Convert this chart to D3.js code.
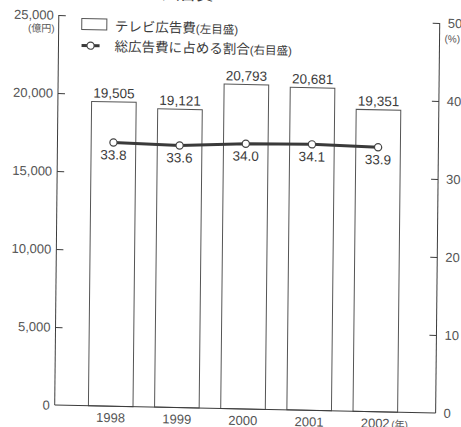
<!DOCTYPE html>
<html>
<head>
<meta charset="utf-8">
<script src="https://cdn.jsdelivr.net/npm/d3@7"></script>
<style>
  html, body { margin: 0; padding: 0; background: #ffffff; }
  svg { display: block; }
  text { font-family: "Liberation Sans", "Noto Sans CJK JP", sans-serif; }
</style>
</head>
<body>
<svg id="chart" width="461" height="427"></svg>
<script>
// TV advertising spend (100 million yen) and its share of total ad spend (%)
const years = ["1998", "1999", "2000", "2001", "2002"];
const tvSpend = [19505, 19121, 20793, 20681, 19351];
const shareOfTotal = [33.8, 33.6, 34.0, 34.1, 33.9];
const leftTicks = [0, 5000, 10000, 15000, 20000, 25000];
const rightTicks = [0, 10, 20, 30, 40, 50];

const W = 380, H = 390;
const ink = "#3c3c3c", soft = "#555";

const svg = d3.select("#chart");
// The printed page sits slightly askew on the scanner bed
const g = svg.append("g")
  .attr("transform", "matrix(1.0024,0.021,-0.0105,1.0,58.8,15)");

const x = d3.scaleBand().domain(years).range([0, W])
  .paddingInner(0.326).paddingOuter(0.542).align(0.47);
const yL = d3.scaleLinear().domain([0, 25000]).range([H, 0]);
const yR = d3.scaleLinear().domain([0, 50]).range([H, 0]);

// Title, cut off at the top edge
g.append("text")
  .attr("x", 154).attr("y", -18)
  .attr("text-anchor", "end")
  .attr("font-size", 17).attr("fill", ink)
  .text("テレビ広告費");

// Bars
g.selectAll("rect.bar").data(years).join("rect")
  .attr("class", "bar")
  .attr("x", d => x(d))
  .attr("y", (d, i) => yL(tvSpend[i]))
  .attr("width", x.bandwidth())
  .attr("height", (d, i) => H - yL(tvSpend[i]))
  .attr("fill", "#fff").attr("stroke", soft).attr("stroke-width", 1);

// Bar value labels
g.selectAll("text.bv").data(years).join("text")
  .attr("class", "bv")
  .attr("x", d => x(d) + x.bandwidth() / 2)
  .attr("y", (d, i) => yL(tvSpend[i]) - 4)
  .attr("text-anchor", "middle")
  .attr("font-size", 13.5).attr("fill", ink)
  .text((d, i) => d3.format(",")(tvSpend[i]));

// Left axis
const axL = g.append("g").call(
  d3.axisLeft(yL).tickValues(leftTicks).tickSize(-7).tickPadding(5)
    .tickFormat(d3.format(",")));
axL.select(".domain").attr("stroke", ink).attr("d", `M0,${H}V0`);
axL.selectAll(".tick line").attr("stroke", ink);
axL.selectAll(".tick text").attr("font-size", 13).attr("fill", soft)
  .attr("font-family", "Liberation Sans, sans-serif");
axL.selectAll(".tick").filter(d => d === 0).select("line").remove();

g.append("text").attr("x", -4).attr("y", 17)
  .attr("text-anchor", "end").attr("font-size", 10).attr("fill", soft)
  .text("(億円)");

// Right axis
const axR = g.append("g").attr("transform", `translate(${W},0)`).call(
  d3.axisRight(yR).tickValues(rightTicks).tickSize(-7).tickPadding(8));
axR.select(".domain").attr("stroke", ink).attr("d", `M0,${H}V0`);
axR.selectAll(".tick line").attr("stroke", ink);
axR.selectAll(".tick text").attr("font-size", 13).attr("fill", soft)
  .attr("font-family", "Liberation Sans, sans-serif");
axR.selectAll(".tick").filter(d => d === 0).select("line").remove();

g.append("text").attr("x", W + 5).attr("y", 19)
  .attr("font-size", 10).attr("fill", soft)
  .text("(%)");

// Baseline
g.append("line").attr("x1", 0).attr("x2", W).attr("y1", H).attr("y2", H)
  .attr("stroke", ink).attr("stroke-width", 1.2);

// Year labels
g.selectAll("text.yr").data(years).join("text")
  .attr("class", "yr")
  .attr("x", d => x(d) + x.bandwidth() / 2)
  .attr("y", H + 16)
  .attr("text-anchor", "middle")
  .attr("font-size", 13).attr("fill", soft)
  .text(d => d);
g.append("text")
  .attr("x", x("2002") + x.bandwidth() / 2 + 16).attr("y", H + 16)
  .attr("font-size", 10).attr("fill", soft)
  .text("(年)");

// Share line
const cx = d => x(d) + x.bandwidth() / 2;
g.append("path")
  .datum(years)
  .attr("d", d3.line().x(cx).y((d, i) => yR(shareOfTotal[i])))
  .attr("fill", "none").attr("stroke", "#3a3a3a").attr("stroke-width", 3);
g.selectAll("circle.pt").data(years).join("circle")
  .attr("class", "pt")
  .attr("cx", cx).attr("cy", (d, i) => yR(shareOfTotal[i]))
  .attr("r", 3.6)
  .attr("fill", "#fff").attr("stroke", "#444").attr("stroke-width", 1.2);
g.selectAll("text.sv").data(years).join("text")
  .attr("class", "sv")
  .attr("x", cx)
  .attr("y", (d, i) => yR(shareOfTotal[i]) + 17)
  .attr("text-anchor", "middle")
  .attr("font-size", 13.5).attr("fill", ink)
  .text((d, i) => d3.format(".1f")(shareOfTotal[i]));

// Legend
const lg = g.append("g");
lg.append("rect").attr("x", 23).attr("y", 3).attr("width", 25).attr("height", 11)
  .attr("fill", "#fff").attr("stroke", soft).attr("stroke-width", 1);
const t1 = lg.append("text").attr("x", 56).attr("y", 15).attr("fill", ink);
t1.append("tspan").attr("font-size", 13.5).text("テレビ広告費");
t1.append("tspan").attr("font-size", 11.5).text("(左目盛)");

lg.append("line").attr("x1", 23).attr("x2", 41).attr("y1", 30).attr("y2", 30)
  .attr("stroke", "#3a3a3a").attr("stroke-width", 3);
lg.append("circle").attr("cx", 32).attr("cy", 30).attr("r", 3.6)
  .attr("fill", "#fff").attr("stroke", "#444").attr("stroke-width", 1.2);
const t2 = lg.append("text").attr("x", 56).attr("y", 35).attr("fill", ink);
t2.append("tspan").attr("font-size", 13.5).text("総広告費に占める割合");
t2.append("tspan").attr("font-size", 11.5).text("(右目盛)");
</script>
</body>
</html>
